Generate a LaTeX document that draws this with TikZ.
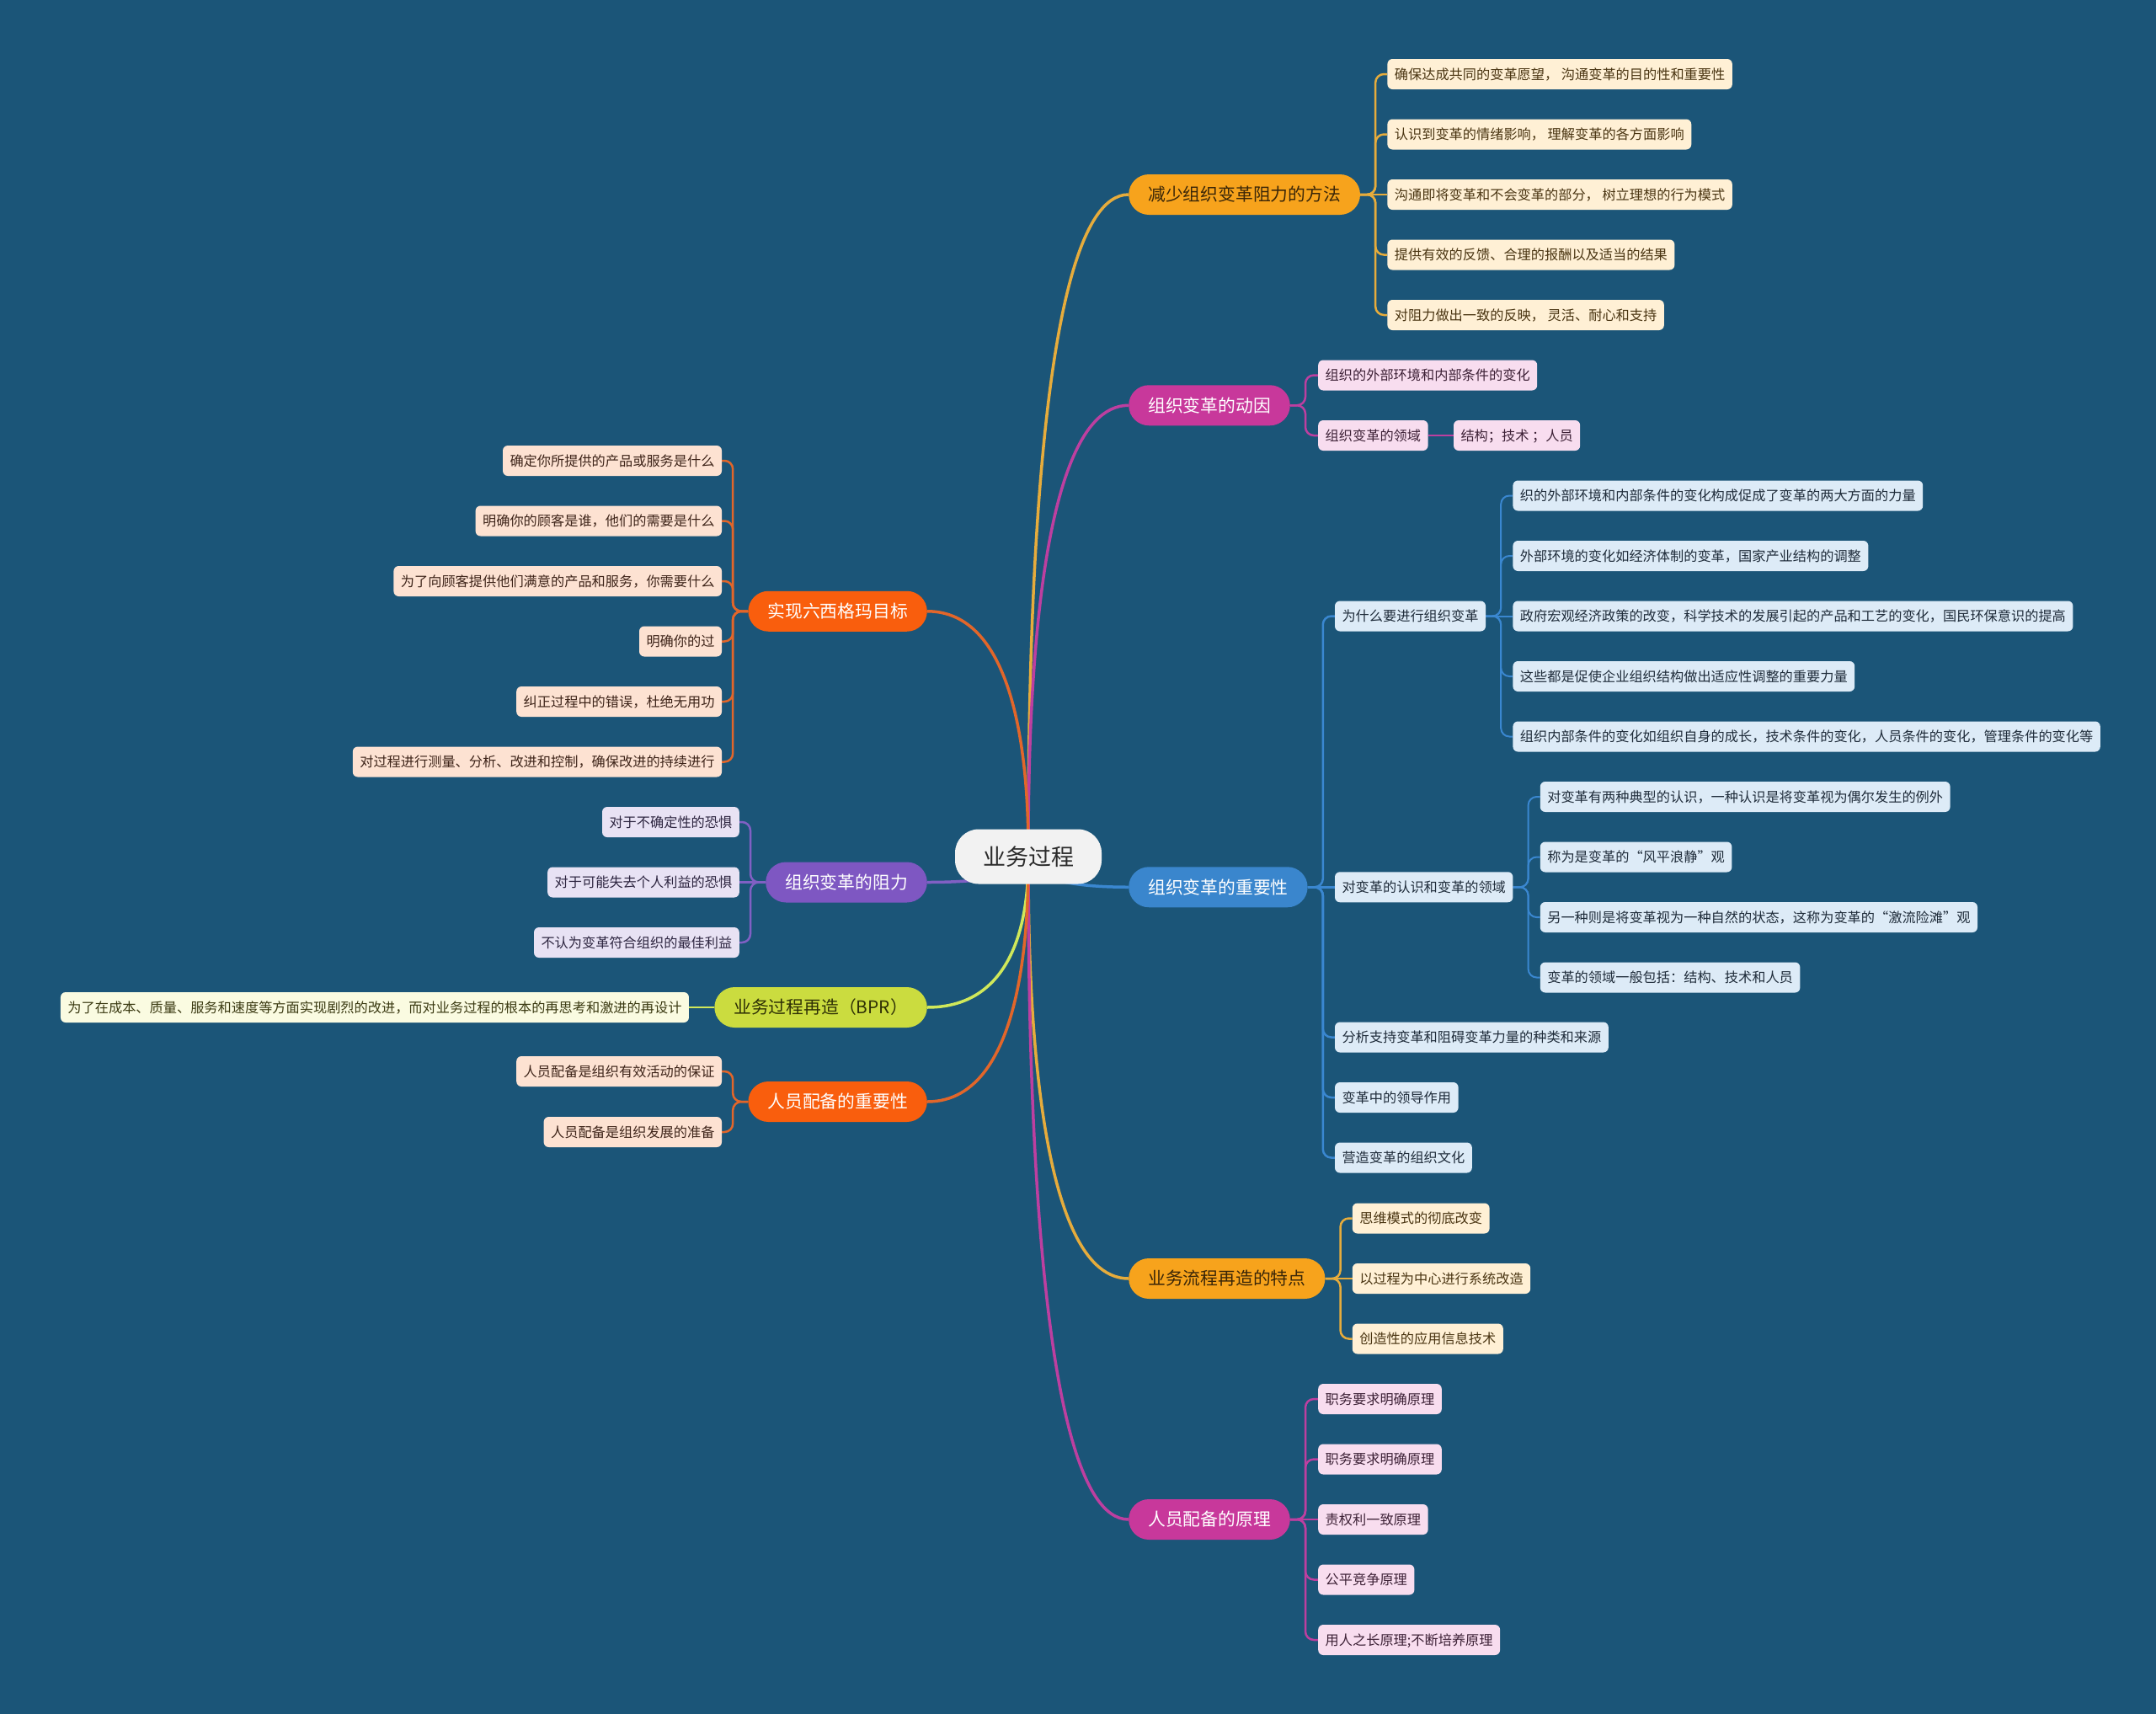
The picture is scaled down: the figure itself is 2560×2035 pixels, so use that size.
\documentclass[tikz,border=0pt]{standalone}
\usepackage{fontspec}
\setmainfont{Noto Sans CJK SC}
\usetikzlibrary{backgrounds,calc}
\definecolor{bgc}{HTML}{1B5578}
\definecolor{rootfill}{HTML}{F2F2F2}
\definecolor{roottext}{HTML}{2B2B2B}
\definecolor{orgfill}{HTML}{F7A31C}
\definecolor{orgtext}{HTML}{3A2608}
\definecolor{orgline}{HTML}{E6AC3C}
\definecolor{creamfill}{HTML}{FFF0D5}
\definecolor{creamtext}{HTML}{4A3512}
\definecolor{magfill}{HTML}{C8389B}
\definecolor{magline}{HTML}{BD3FA0}
\definecolor{pinkfill}{HTML}{F8DDEF}
\definecolor{pinktext}{HTML}{3D2136}
\definecolor{bluefill}{HTML}{3A86CD}
\definecolor{blueline}{HTML}{3A87D0}
\definecolor{lbluefill}{HTML}{DDEBF7}
\definecolor{lbluetext}{HTML}{1F2C3A}
\definecolor{redfill}{HTML}{F95E0D}
\definecolor{redline}{HTML}{E2662A}
\definecolor{peachfill}{HTML}{FDE2D2}
\definecolor{peachtext}{HTML}{3E2419}
\definecolor{purfill}{HTML}{7E57C2}
\definecolor{purline}{HTML}{8060C4}
\definecolor{lavfill}{HTML}{E8E2F4}
\definecolor{lavtext}{HTML}{2D2540}
\definecolor{ygfill}{HTML}{CBDC3F}
\definecolor{ygtext}{HTML}{2E3005}
\definecolor{ygline}{HTML}{D0E85A}
\definecolor{paleyfill}{HTML}{FAFBE1}
\definecolor{paleytext}{HTML}{3B3A12}
\begin{document}
\begin{tikzpicture}[x=1pt,y=-1pt,
  leafbase/.style={rounded corners=6pt, minimum height=36pt, inner xsep=8.5pt, inner ysep=0pt,
    text height=14.3pt, text depth=1.9pt, font=\fontsize{16.2}{19}\selectfont},
  cream/.style={leafbase, fill=creamfill, text=creamtext},
  pinkleaf/.style={leafbase, fill=pinkfill, text=pinktext},
  blueleaf/.style={leafbase, fill=lbluefill, text=lbluetext},
  peachleaf/.style={leafbase, fill=peachfill, text=peachtext},
  lavleaf/.style={leafbase, fill=lavfill, text=lavtext},
  paleleaf/.style={leafbase, fill=paleyfill, text=paleytext},
  branchbase/.style={rounded corners=24pt, minimum height=48pt, inner xsep=23pt, inner ysep=0pt,
    text height=18.3pt, text depth=2.5pt, font=\fontsize{20.8}{24}\selectfont},
  obranch/.style={branchbase, fill=orgfill, text=orgtext},
  mbranch/.style={branchbase, fill=magfill, text=white},
  bbranch/.style={branchbase, fill=bluefill, text=white},
  rbranch/.style={branchbase, fill=redfill, text=white},
  pbranch/.style={branchbase, fill=purfill, text=white},
  ybranch/.style={branchbase, fill=ygfill, text=ygtext},
  rootnode/.style={rounded corners=28pt, minimum height=65pt, inner xsep=33pt, inner ysep=0pt,
    text height=23.8pt, text depth=3.2pt, font=\fontsize{27}{31}\selectfont, fill=rootfill, text=roottext},
  trunk/.style={line width=3.5pt},
  twig/.style={line width=2.5pt, rounded corners=10pt},
  twigs/.style={line width=2pt, rounded corners=10pt}
]
\useasboundingbox (0,0) rectangle (2560,2035);

% root
\node[rootnode] (root) at (1221,1017) {业务过程};

% right branches
\node[obranch, anchor=west] (B1) at (1340,231) {减少组织变革阻力的方法};
\node[mbranch, anchor=west] (B2) at (1340,481.25) {组织变革的动因};
\node[bbranch, anchor=west] (B3) at (1340,1053.25) {组织变革的重要性};
\node[obranch, anchor=west] (B4) at (1340,1518) {业务流程再造的特点};
\node[mbranch, anchor=west] (B5) at (1340,1804) {人员配备的原理};

% left branches
\node[rbranch, anchor=east] (L1) at (1101,725.75) {实现六西格玛目标};
\node[pbranch, anchor=east] (L2) at (1101,1047.5) {组织变革的阻力};
\node[ybranch, anchor=east] (L3) at (1101,1196) {业务过程再造（BPR）};
\node[rbranch, anchor=east] (L4) at (1101,1308) {人员配备的重要性};

% B1 leaves
\node[cream, anchor=west] (b1a) at ($(B1.east)+(32,-143)$) {确保达成共同的变革愿望， 沟通变革的目的性和重要性};
\node[cream, anchor=west] (b1b) at ($(B1.east)+(32,-71.5)$) {认识到变革的情绪影响， 理解变革的各方面影响};
\node[cream, anchor=west] (b1c) at ($(B1.east)+(32,0)$) {沟通即将变革和不会变革的部分， 树立理想的行为模式};
\node[cream, anchor=west] (b1d) at ($(B1.east)+(32,71.5)$) {提供有效的反馈、合理的报酬以及适当的结果};
\node[cream, anchor=west] (b1e) at ($(B1.east)+(32,143)$) {对阻力做出一致的反映， 灵活、耐心和支持};

% B2 leaves
\node[pinkleaf, anchor=west] (b2a) at ($(B2.east)+(33,-35.75)$) {组织的外部环境和内部条件的变化};
\node[pinkleaf, anchor=west] (b2b) at ($(B2.east)+(33,35.75)$) {组织变革的领域};
\node[pinkleaf, anchor=west] (b2c) at ($(b2b.east)+(30,0)$) {结构；技术 ；人员};

% B3 children
\node[blueleaf, anchor=west] (c1) at ($(B3.east)+(32,-321.75)$) {为什么要进行组织变革};
\node[blueleaf, anchor=west] (c2) at ($(B3.east)+(32,0)$) {对变革的认识和变革的领域};
\node[blueleaf, anchor=west] (c3) at ($(B3.east)+(32,178.25)$) {分析支持变革和阻碍变革力量的种类和来源};
\node[blueleaf, anchor=west] (c4) at ($(B3.east)+(32,249.75)$) {变革中的领导作用};
\node[blueleaf, anchor=west] (c5) at ($(B3.east)+(32,321.25)$) {营造变革的组织文化};

\node[blueleaf, anchor=west] (c1a) at ($(c1.east)+(32,-143)$) {织的外部环境和内部条件的变化构成促成了变革的两大方面的力量};
\node[blueleaf, anchor=west] (c1b) at ($(c1.east)+(32,-71.5)$) {外部环境的变化如经济体制的变革，国家产业结构的调整};
\node[blueleaf, anchor=west] (c1c) at ($(c1.east)+(32,0)$) {政府宏观经济政策的改变，科学技术的发展引起的产品和工艺的变化，国民环保意识的提高};
\node[blueleaf, anchor=west] (c1d) at ($(c1.east)+(32,71.5)$) {这些都是促使企业组织结构做出适应性调整的重要力量};
\node[blueleaf, anchor=west] (c1e) at ($(c1.east)+(32,143)$) {组织内部条件的变化如组织自身的成长，技术条件的变化，人员条件的变化，管理条件的变化等};

\node[blueleaf, anchor=west] (c2a) at ($(c2.east)+(32,-107.25)$) {对变革有两种典型的认识，一种认识是将变革视为偶尔发生的例外};
\node[blueleaf, anchor=west] (c2b) at ($(c2.east)+(32,-35.75)$) {称为是变革的“风平浪静”观};
\node[blueleaf, anchor=west] (c2c) at ($(c2.east)+(32,35.75)$) {另一种则是将变革视为一种自然的状态，这称为变革的“激流险滩”观};
\node[blueleaf, anchor=west] (c2d) at ($(c2.east)+(32,107.25)$) {变革的领域一般包括：结构、技术和人员};

% B4 leaves
\node[cream, anchor=west] (b4a) at ($(B4.east)+(32,-71.5)$) {思维模式的彻底改变};
\node[cream, anchor=west] (b4b) at ($(B4.east)+(32,0)$) {以过程为中心进行系统改造};
\node[cream, anchor=west] (b4c) at ($(B4.east)+(32,71.5)$) {创造性的应用信息技术};

% B5 leaves
\node[pinkleaf, anchor=west] (b5a) at ($(B5.east)+(33,-143)$) {职务要求明确原理};
\node[pinkleaf, anchor=west] (b5b) at ($(B5.east)+(33,-71.5)$) {职务要求明确原理};
\node[pinkleaf, anchor=west] (b5c) at ($(B5.east)+(33,0)$) {责权利一致原理};
\node[pinkleaf, anchor=west] (b5d) at ($(B5.east)+(33,71.5)$) {公平竞争原理};
\node[pinkleaf, anchor=west] (b5e) at ($(B5.east)+(33,143)$) {用人之长原理;不断培养原理};

% L1 leaves
\node[peachleaf, anchor=east] (l1a) at ($(L1.west)+(-31,-178.75)$) {确定你所提供的产品或服务是什么};
\node[peachleaf, anchor=east] (l1b) at ($(L1.west)+(-31,-107.25)$) {明确你的顾客是谁，他们的需要是什么};
\node[peachleaf, anchor=east] (l1c) at ($(L1.west)+(-31,-35.75)$) {为了向顾客提供他们满意的产品和服务，你需要什么};
\node[peachleaf, anchor=east] (l1d) at ($(L1.west)+(-31,35.75)$) {明确你的过};
\node[peachleaf, anchor=east] (l1e) at ($(L1.west)+(-31,107.25)$) {纠正过程中的错误，杜绝无用功};
\node[peachleaf, anchor=east] (l1f) at ($(L1.west)+(-31,178.75)$) {对过程进行测量、分析、改进和控制，确保改进的持续进行};

% L2 leaves
\node[lavleaf, anchor=east] (l2a) at ($(L2.west)+(-31,-71.5)$) {对于不确定性的恐惧};
\node[lavleaf, anchor=east] (l2b) at ($(L2.west)+(-31,0)$) {对于可能失去个人利益的恐惧};
\node[lavleaf, anchor=east] (l2c) at ($(L2.west)+(-31,71.5)$) {不认为变革符合组织的最佳利益};

% L3 leaf
\node[paleleaf, anchor=east] (l3a) at ($(L3.west)+(-30,0)$) {为了在成本、质量、服务和速度等方面实现剧烈的改进，而对业务过程的根本的再思考和激进的再设计};

% L4 leaves
\node[peachleaf, anchor=east] (l4a) at ($(L4.west)+(-31,-36)$) {人员配备是组织有效活动的保证};
\node[peachleaf, anchor=east] (l4b) at ($(L4.west)+(-31,36)$) {人员配备是组织发展的准备};

\begin{pgfonlayer}{background}
\fill[bgc] (0,0) rectangle (2560,2035);

% trunk curves
\draw[trunk, orgline] (root.center) .. controls +(0,-157) and (root.center |- B1.west) .. (B1.west);
\draw[trunk, magline] (root.center) .. controls +(0,-107) and (root.center |- B2.west) .. (B2.west);
\draw[trunk, blueline] (root.center) .. controls +(0,7) and (root.center |- B3.west) .. (B3.west);
\draw[trunk, orgline] (root.center) .. controls +(0,100) and (root.center |- B4.west) .. (B4.west);
\draw[trunk, magline] (root.center) .. controls +(0,157) and (root.center |- B5.west) .. (B5.west);
\draw[trunk, redline] (root.center) .. controls +(0,-58) and (root.center |- L1.east) .. (L1.east);
\draw[trunk, purline] (root.center) .. controls +(0,6) and (root.center |- L2.east) .. (L2.east);
\draw[trunk, ygline] (root.center) .. controls +(0,36) and (root.center |- L3.east) .. (L3.east);
\draw[trunk, redline] (root.center) .. controls +(0,58) and (root.center |- L4.east) .. (L4.east);

% B1
\draw[twig, orgline] (B1.east) -- ++(18,0) |- (b1a.west);
\draw[twig, orgline] (B1.east) -- ++(18,0) |- (b1b.west);
\draw[twig, orgline] (B1.east) -- (b1c.west);
\draw[twig, orgline] (B1.east) -- ++(18,0) |- (b1d.west);
\draw[twig, orgline] (B1.east) -- ++(18,0) |- (b1e.west);
% B2
\draw[twig, magline] (B2.east) -- ++(18,0) |- (b2a.west);
\draw[twig, magline] (B2.east) -- ++(18,0) |- (b2b.west);
\draw[twig, magline] (b2b.east) -- (b2c.west);
% B3
\draw[twig, blueline] (B3.east) -- ++(18,0) |- (c1.west);
\draw[twig, blueline] (B3.east) -- (c2.west);
\draw[twig, blueline] (B3.east) -- ++(18,0) |- (c3.west);
\draw[twig, blueline] (B3.east) -- ++(18,0) |- (c4.west);
\draw[twig, blueline] (B3.east) -- ++(18,0) |- (c5.west);
\draw[twigs, blueline] (c1.east) -- ++(18,0) |- (c1a.west);
\draw[twigs, blueline] (c1.east) -- ++(18,0) |- (c1b.west);
\draw[twigs, blueline] (c1.east) -- (c1c.west);
\draw[twigs, blueline] (c1.east) -- ++(18,0) |- (c1d.west);
\draw[twigs, blueline] (c1.east) -- ++(18,0) |- (c1e.west);
\draw[twigs, blueline] (c2.east) -- ++(18,0) |- (c2a.west);
\draw[twigs, blueline] (c2.east) -- ++(18,0) |- (c2b.west);
\draw[twigs, blueline] (c2.east) -- ++(18,0) |- (c2c.west);
\draw[twigs, blueline] (c2.east) -- ++(18,0) |- (c2d.west);
% B4
\draw[twig, orgline] (B4.east) -- ++(18,0) |- (b4a.west);
\draw[twig, orgline] (B4.east) -- (b4b.west);
\draw[twig, orgline] (B4.east) -- ++(18,0) |- (b4c.west);
% B5
\draw[twig, magline] (B5.east) -- ++(18,0) |- (b5a.west);
\draw[twig, magline] (B5.east) -- ++(18,0) |- (b5b.west);
\draw[twig, magline] (B5.east) -- (b5c.west);
\draw[twig, magline] (B5.east) -- ++(18,0) |- (b5d.west);
\draw[twig, magline] (B5.east) -- ++(18,0) |- (b5e.west);
% L1
\draw[twig, redline] (L1.west) -- ++(-18,0) |- (l1a.east);
\draw[twig, redline] (L1.west) -- ++(-18,0) |- (l1b.east);
\draw[twig, redline] (L1.west) -- ++(-18,0) |- (l1c.east);
\draw[twig, redline] (L1.west) -- ++(-18,0) |- (l1d.east);
\draw[twig, redline] (L1.west) -- ++(-18,0) |- (l1e.east);
\draw[twig, redline] (L1.west) -- ++(-18,0) |- (l1f.east);
% L2
\draw[twig, purline] (L2.west) -- ++(-18,0) |- (l2a.east);
\draw[twig, purline] (L2.west) -- (l2b.east);
\draw[twig, purline] (L2.west) -- ++(-18,0) |- (l2c.east);
% L3
\draw[twig, ygline] (L3.west) -- (l3a.east);
% L4
\draw[twig, redline] (L4.west) -- ++(-18,0) |- (l4a.east);
\draw[twig, redline] (L4.west) -- ++(-18,0) |- (l4b.east);
\end{pgfonlayer}
\end{tikzpicture}
\end{document}
